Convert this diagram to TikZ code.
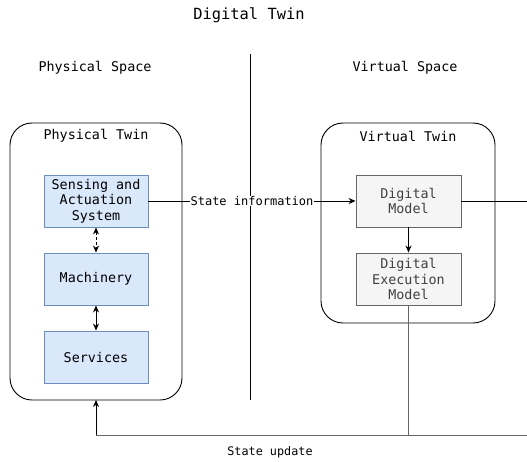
\documentclass[tikz,border=0pt]{standalone}
\usepackage{fontspec}
\setmainfont{DejaVu Sans Mono}
\usetikzlibrary{arrows.meta}
\definecolor{bluefill}{HTML}{DAE8FC}
\definecolor{blueline}{HTML}{6C8EBF}
\definecolor{grayfill}{HTML}{F5F5F5}
\definecolor{grayline}{HTML}{666666}
\tikzset{
  bluebox/.style={draw=blueline, fill=bluefill, minimum width=104pt, minimum height=52pt, align=center, inner sep=0pt, font=\fontsize{13.4}{15.5}\selectfont},
  graybox/.style={draw=grayline, fill=grayfill, minimum width=105pt, minimum height=52pt, align=center, inner sep=0pt, font=\fontsize{13.4}{15.5}\selectfont, text=black!75},
  twin/.style={draw=black, rounded corners=22pt, line width=0.9pt},
  lbl/.style={font=\fontsize{13.4}{15.5}\selectfont, inner sep=1pt},
  tip/.style={-{Stealth[length=7pt,width=6pt]}},
  dtip/.style={{Stealth[length=7pt,width=6pt]}-{Stealth[length=7pt,width=6pt]}},
}
\begin{document}
\begin{tikzpicture}[x=1pt,y=-1pt, line width=0.9pt]
\useasboundingbox (0,0) rectangle (527,461);
\node[font=\fontsize{15.4}{18}\selectfont] (title) at (249,15) {Digital Twin};
\node[lbl] (ps) at (95,68) {Physical Space};
\node[lbl] (vs) at (405,68) {Virtual Space};
\coordinate (divtop) at (250,54);
\coordinate (divbot) at (250,400);
\draw (divtop) -- (divbot);
\draw[twin] (10,123) rectangle (182,400);
\coordinate (ptbot) at (96,400);
\node[lbl] (ptl) at (96,136) {Physical Twin};
\draw[twin] (321,123) rectangle (495,323);
\node[lbl] (vtl) at (408,136) {Virtual Twin};
\node[bluebox] (sas) at (96,201) {Sensing and\\Actuation\\System};
\node[bluebox] (mach) at (96,279) {Machinery};
\node[bluebox] (serv) at (96,357) {Services};
\node[graybox] (dm) at (408.5,201) {Digital\\Model};
\node[graybox] (dem) at (408.5,279) {Digital\\Execution\\Model};
\draw[dtip, dashed, dash pattern=on 3pt off 2pt] (sas) -- (mach);
\draw[dtip] (mach) -- (serv);
\draw[tip] (sas.east) -- (dm.west) node[midway, fill=white, lbl, inner sep=0.5pt, font=\fontsize{12}{14}\selectfont] (si) {State information};
\draw[tip] (dm) -- (dem);
\coordinate (r1) at (529,201);
\coordinate (r2) at (529,435);
\coordinate (b1) at (96,435);
\draw (dm.east) -- (r1);
\draw[grayline] (r1) -- (r2) -- (b1);
\draw[tip, black] (b1) -- (ptbot);
\draw[grayline] (dem.south) -- (dem.south |- b1);
\node[font=\fontsize{11.8}{14}\selectfont] (su) at (270,452) {State update};
\end{tikzpicture}
\end{document}
